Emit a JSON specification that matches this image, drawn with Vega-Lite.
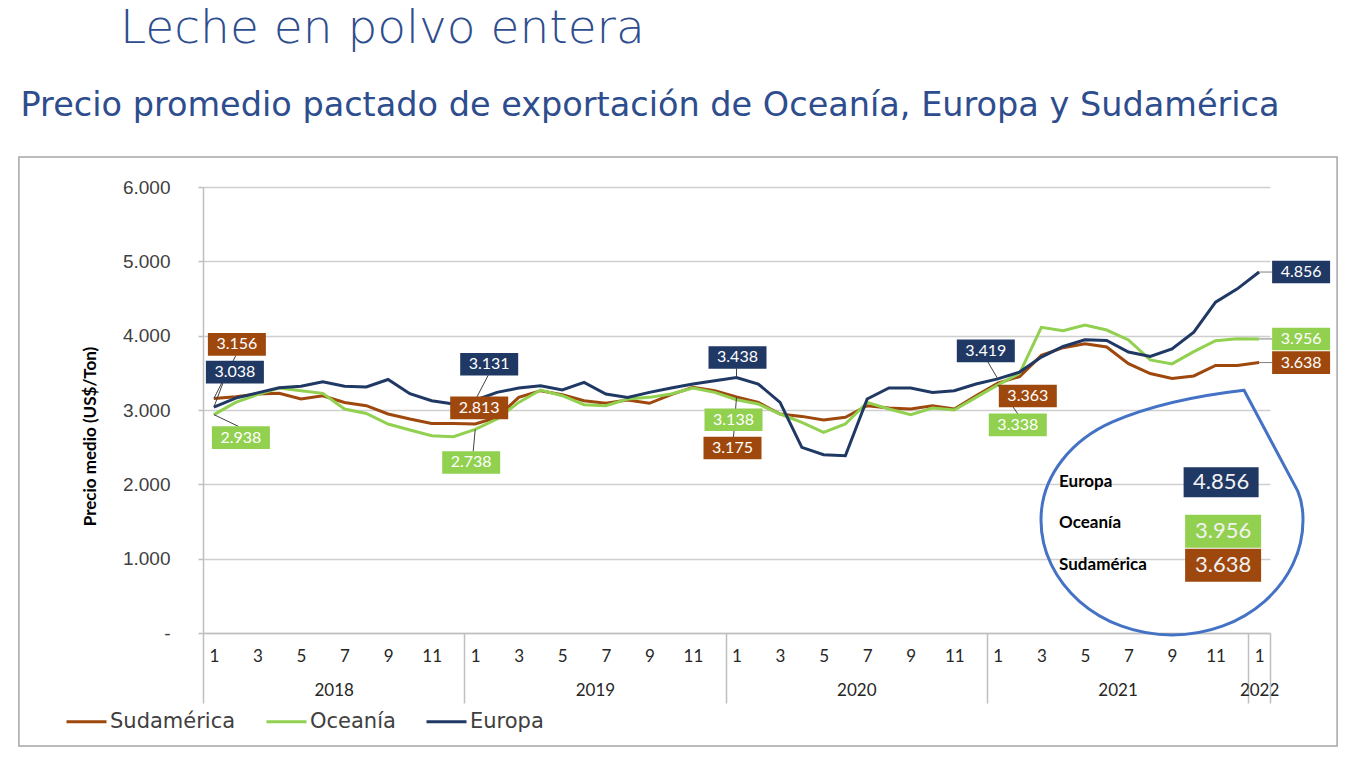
{
  "$schema": "https://vega.github.io/schema/vega-lite/v6.json",
  "width": 1067,
  "height": 446,
  "autosize": "none",
  "padding": {"left": 203, "top": 187, "right": 92, "bottom": 133},
  "background": "#FFFFFF",
  "config": {
    "font": "Lato",
    "view": {"stroke": null},
    "locale": {"number": {"decimal": ",", "thousands": ".", "grouping": [3], "currency": ["$", ""]}},
    "axis": {"labelOverlap": false}
  },
  "title": {
    "text": "Leche en polvo entera",
    "anchor": "start",
    "frame": "group",
    "dx": -83,
    "offset": -2,
    "baseline": "alphabetic",
    "font": "DejaVu Sans",
    "fontSize": 47,
    "fontWeight": 300,
    "color": "#2E4D8E"
  },
  "datasets": {
    "precios": [
      {"t": "2018-01", "Sudamérica": 3156, "Oceanía": 2938, "Europa": 3038},
      {"t": "2018-02", "Sudamérica": 3178, "Oceanía": 3102, "Europa": 3160},
      {"t": "2018-03", "Sudamérica": 3215, "Oceanía": 3206, "Europa": 3230},
      {"t": "2018-04", "Sudamérica": 3224, "Oceanía": 3296, "Europa": 3300},
      {"t": "2018-05", "Sudamérica": 3148, "Oceanía": 3260, "Europa": 3320},
      {"t": "2018-06", "Sudamérica": 3192, "Oceanía": 3224, "Europa": 3380},
      {"t": "2018-07", "Sudamérica": 3102, "Oceanía": 3013, "Europa": 3320},
      {"t": "2018-08", "Sudamérica": 3058, "Oceanía": 2954, "Europa": 3310},
      {"t": "2018-09", "Sudamérica": 2946, "Oceanía": 2812, "Europa": 3410},
      {"t": "2018-10", "Sudamérica": 2879, "Oceanía": 2731, "Europa": 3220},
      {"t": "2018-11", "Sudamérica": 2820, "Oceanía": 2654, "Europa": 3125},
      {"t": "2018-12", "Sudamérica": 2820, "Oceanía": 2640, "Europa": 3080},
      {"t": "2019-01", "Sudamérica": 2813, "Oceanía": 2738, "Europa": 3131},
      {"t": "2019-02", "Sudamérica": 2900, "Oceanía": 2879, "Europa": 3237},
      {"t": "2019-03", "Sudamérica": 3170, "Oceanía": 3102, "Europa": 3296},
      {"t": "2019-04", "Sudamérica": 3260, "Oceanía": 3269, "Europa": 3327},
      {"t": "2019-05", "Sudamérica": 3206, "Oceanía": 3192, "Europa": 3269},
      {"t": "2019-06", "Sudamérica": 3125, "Oceanía": 3071, "Europa": 3371},
      {"t": "2019-07", "Sudamérica": 3090, "Oceanía": 3058, "Europa": 3215},
      {"t": "2019-08", "Sudamérica": 3134, "Oceanía": 3148, "Europa": 3170},
      {"t": "2019-09", "Sudamérica": 3090, "Oceanía": 3170, "Europa": 3237},
      {"t": "2019-10", "Sudamérica": 3206, "Oceanía": 3215, "Europa": 3296},
      {"t": "2019-11", "Sudamérica": 3305, "Oceanía": 3296, "Europa": 3350},
      {"t": "2019-12", "Sudamérica": 3260, "Oceanía": 3237, "Europa": 3394},
      {"t": "2020-01", "Sudamérica": 3175, "Oceanía": 3138, "Europa": 3438},
      {"t": "2020-02", "Sudamérica": 3102, "Oceanía": 3080, "Europa": 3350},
      {"t": "2020-03", "Sudamérica": 2946, "Oceanía": 2946, "Europa": 3102},
      {"t": "2020-04", "Sudamérica": 2914, "Oceanía": 2833, "Europa": 2497},
      {"t": "2020-05", "Sudamérica": 2866, "Oceanía": 2699, "Europa": 2398},
      {"t": "2020-06", "Sudamérica": 2902, "Oceanía": 2812, "Europa": 2385},
      {"t": "2020-07", "Sudamérica": 3058, "Oceanía": 3102, "Europa": 3148},
      {"t": "2020-08", "Sudamérica": 3026, "Oceanía": 3013, "Europa": 3296},
      {"t": "2020-09", "Sudamérica": 3013, "Oceanía": 2937, "Europa": 3296},
      {"t": "2020-10", "Sudamérica": 3058, "Oceanía": 3026, "Europa": 3237},
      {"t": "2020-11", "Sudamérica": 3013, "Oceanía": 3000, "Europa": 3260},
      {"t": "2020-12", "Sudamérica": 3192, "Oceanía": 3170, "Europa": 3350},
      {"t": "2021-01", "Sudamérica": 3363, "Oceanía": 3338, "Europa": 3419},
      {"t": "2021-02", "Sudamérica": 3450, "Oceanía": 3493, "Europa": 3510},
      {"t": "2021-03", "Sudamérica": 3735, "Oceanía": 4112, "Europa": 3712},
      {"t": "2021-04", "Sudamérica": 3838, "Oceanía": 4067, "Europa": 3855},
      {"t": "2021-05", "Sudamérica": 3892, "Oceanía": 4143, "Europa": 3944},
      {"t": "2021-06", "Sudamérica": 3848, "Oceanía": 4076, "Europa": 3935},
      {"t": "2021-07", "Sudamérica": 3624, "Oceanía": 3942, "Europa": 3780},
      {"t": "2021-08", "Sudamérica": 3490, "Oceanía": 3673, "Europa": 3720},
      {"t": "2021-09", "Sudamérica": 3423, "Oceanía": 3620, "Europa": 3823},
      {"t": "2021-10", "Sudamérica": 3458, "Oceanía": 3785, "Europa": 4047},
      {"t": "2021-11", "Sudamérica": 3600, "Oceanía": 3932, "Europa": 4450},
      {"t": "2021-12", "Sudamérica": 3600, "Oceanía": 3960, "Europa": 4630},
      {"t": "2022-01", "Sudamérica": 3638, "Oceanía": 3956, "Europa": 4856}
    ]
  },
  "data": {"name": "precios"},
  "transform": [{"fold": ["Sudamérica", "Oceanía", "Europa"], "as": ["serie", "valor"]}],
  "resolve": {"axis": {"x": "independent", "y": "independent"}},
  "layer": [
    {
      "transform": [{"filter": "datum.t == '2022-01' && datum.serie == 'Europa'"}],
      "mark": {"type": "rect", "filled": false, "color": "#A6A6A6", "strokeWidth": 1.5, "xOffset": -195, "x2Offset": 78, "yOffset": -30, "y2Offset": 113},
      "encoding": {
        "x": {"datum": "2018-01", "type": "ordinal", "axis": null},
        "x2": {"datum": "2022-01"},
        "y": {"datum": 6000, "type": "quantitative", "axis": null},
        "y2": {"datum": 0}
      }
    },
    {
      "mark": {"type": "line", "strokeWidth": 3},
      "encoding": {
        "x": {
          "field": "t", "type": "ordinal",
          "scale": {"type": "point", "padding": 0.5},
          "axis": {
            "orient": "bottom", "title": null, "labelAngle": 0, "ticks": false, "grid": false,
            "domain": true, "domainColor": "#BFBFBF", "domainWidth": 1.5,
            "labelExpr": "toNumber(slice(datum.value,5)) % 2 == 1 ? '' + toNumber(slice(datum.value,5)) : ''",
            "labelPadding": 15, "labelFont": "Lato", "labelFontSize": 17, "labelColor": "#262626"
          }
        },
        "y": {
          "field": "valor", "type": "quantitative",
          "scale": {"domain": [0, 6000], "nice": false},
          "axis": {
            "values": [0, 1000, 2000, 3000, 4000, 5000, 6000],
            "format": ",d",
            "labelExpr": "datum.value == 0 ? '-' : datum.label",
            "labelFont": "Liberation Sans", "labelFontSize": 19, "labelColor": "#404040", "labelPadding": 28,
            "ticks": true, "tickSize": 5, "tickColor": "#BFBFBF", "tickWidth": 1.5,
            "domain": true, "domainColor": "#BFBFBF", "domainWidth": 1.5,
            "grid": true, "gridColor": "#CFCFCF", "gridWidth": 1.5,
            "title": "Precio medio (US$/Ton)", "titleFont": "Lato", "titleFontSize": 17, "titleFontWeight": "bold", "titleColor": "#000000",
            "titleX": -113, "titleY": 249, "titleAngle": 270, "titleAlign": "center", "titleBaseline": "middle"
          }
        },
        "color": {
          "field": "serie", "type": "nominal",
          "scale": {"domain": ["Sudamérica", "Oceanía", "Europa"], "range": ["#9E480E", "#92D050", "#1F3864"]},
          "legend": {
            "orient": "none", "legendX": -138, "legendY": 513, "direction": "horizontal", "title": null,
            "symbolType": "stroke", "symbolSize": 1600, "symbolStrokeWidth": 3,
            "labelFont": "DejaVu Sans", "labelFontSize": 21, "labelColor": "#404040", "labelOffset": 2,
            "columnPadding": 24, "padding": 0
          }
        }
      }
    },
    {
      "transform": [{"filter": "datum.t == '2022-01' && datum.serie == 'Europa'"}],
      "mark": {"type": "point", "shape": "M0.55,-0.99L0.96,-0.22C0.99,-0.15,1,-0.08,1,0C1,0.485,0.552,0.878,0,0.878C-0.552,0.878,-1,0.485,-1,0C-1,-0.35,-0.75,-0.62,-0.45,-0.75C-0.15,-0.88,0.2,-0.95,0.55,-0.99Z", "size": 68644, "filled": false, "color": "#4472C4", "strokeWidth": 3, "opacity": 1},
      "encoding": {
        "x": {"datum": "2021-09", "type": "ordinal", "axis": null},
        "y": {"datum": 1521, "type": "quantitative", "axis": null}
      }
    },
    {
      "transform": [{"filter": "datum.t == '2018-01' && datum.serie == 'Sudamérica'"}],
      "encoding": {
        "x": {"field": "t", "type": "ordinal", "axis": {
          "orient": "bottom", "values": ["2018-07", "2019-07", "2020-07", "2021-07"], "labelExpr": "slice(datum.value,0,4)",
          "labelOffset": -10.888, "ticks": false, "domain": false, "grid": false, "labelPadding": 49, "labelAngle": 0,
          "labelFont": "Lato", "labelFontSize": 17, "labelColor": "#262626", "title": null}},
        "y": {"field": "valor", "type": "quantitative", "axis": null}
      },
      "layer": [
        {"mark": {"type": "rule", "color": "#404040", "strokeWidth": 1, "x2Offset": 22, "y2Offset": -43}, "encoding": {"x2": {"field": "t"}, "y2": {"field": "valor"}}},
        {"mark": {"type": "point", "shape": "M-1,-0.39H1V0.39H-1Z", "size": 3364, "filled": true, "opacity": 1, "strokeWidth": 0, "xOffset": 23, "yOffset": -54}, "encoding": {"color": {"field": "serie", "type": "nominal", "legend": null}}},
        {"mark": {"type": "text", "color": "#FFFFFF", "font": "Lato", "fontSize": 16, "dx": 23, "dy": -54}, "encoding": {"text": {"field": "valor", "type": "quantitative", "format": ",d"}}}
      ]
    },
    {
      "transform": [{"filter": "datum.t == '2018-01' && datum.serie == 'Europa'"}],
      "encoding": {
        "x": {"field": "t", "type": "ordinal", "axis": {
          "orient": "bottom", "values": ["2018-01", "2019-01", "2020-01", "2021-01", "2022-01"], "tickOffset": -10.888,
          "ticks": true, "tickSize": 70, "tickColor": "#BFBFBF", "tickWidth": 1.5,
          "labelExpr": "datum.value == '2022-01' ? '2022' : ''", "labelOffset": 10.888, "labelPadding": -21, "labelAngle": 0,
          "labelFont": "Lato", "labelFontSize": 17, "labelColor": "#262626", "domain": false, "grid": false, "title": null}},
        "y": {"field": "valor", "type": "quantitative", "axis": null}
      },
      "layer": [
        {"mark": {"type": "rule", "color": "#404040", "strokeWidth": 1, "x2Offset": 9, "y2Offset": -24}, "encoding": {"x2": {"field": "t"}, "y2": {"field": "valor"}}},
        {"mark": {"type": "point", "shape": "M-1,-0.39H1V0.39H-1Z", "size": 3364, "filled": true, "opacity": 1, "strokeWidth": 0, "xOffset": 21, "yOffset": -35}, "encoding": {"color": {"field": "serie", "type": "nominal", "legend": null}}},
        {"mark": {"type": "text", "color": "#FFFFFF", "font": "Lato", "fontSize": 16, "dx": 21, "dy": -35}, "encoding": {"text": {"field": "valor", "type": "quantitative", "format": ",d"}}}
      ]
    },
    {
      "transform": [{"filter": "datum.t == '2018-01' && datum.serie == 'Oceanía'"}],
      "encoding": {
        "x": {"field": "t", "type": "ordinal", "axis": {
          "orient": "bottom", "values": ["2022-01"], "tickOffset": 10.888, "ticks": true, "tickSize": 70, "tickColor": "#BFBFBF", "tickWidth": 1.5,
          "labels": false, "domain": false, "grid": false, "title": null}},
        "y": {"field": "valor", "type": "quantitative", "axis": null}
      },
      "layer": [
        {"mark": {"type": "rule", "color": "#404040", "strokeWidth": 1, "x2Offset": 25, "y2Offset": 12}, "encoding": {"x2": {"field": "t"}, "y2": {"field": "valor"}}},
        {"mark": {"type": "point", "shape": "M-1,-0.39H1V0.39H-1Z", "size": 3364, "filled": true, "opacity": 1, "strokeWidth": 0, "xOffset": 27, "yOffset": 23}, "encoding": {"color": {"field": "serie", "type": "nominal", "legend": null}}},
        {"mark": {"type": "text", "color": "#FFFFFF", "font": "Lato", "fontSize": 16, "dx": 27, "dy": 23}, "encoding": {"text": {"field": "valor", "type": "quantitative", "format": ",d"}}}
      ]
    },
    {
      "transform": [{"filter": "datum.t == '2019-01' && datum.serie == 'Europa'"}],
      "encoding": {
        "x": {"field": "t", "type": "ordinal", "axis": {
          "orient": "top", "labels": false, "ticks": false, "domain": false, "grid": false,
          "title": "Precio promedio pactado de exportación de Oceanía, Europa y Sudamérica",
          "titleX": -183, "titleY": -72, "titleAlign": "left", "titleAnchor": "start", "titleBaseline": "alphabetic",
          "titleFont": "DejaVu Sans", "titleFontSize": 33.5, "titleFontWeight": "normal", "titleColor": "#2E4D8E"}},
        "y": {"field": "valor", "type": "quantitative", "axis": null}
      },
      "layer": [
        {"mark": {"type": "rule", "color": "#404040", "strokeWidth": 1, "x2Offset": 13, "y2Offset": -25}, "encoding": {"x2": {"field": "t"}, "y2": {"field": "valor"}}},
        {"mark": {"type": "point", "shape": "M-1,-0.39H1V0.39H-1Z", "size": 3364, "filled": true, "opacity": 1, "strokeWidth": 0, "xOffset": 14, "yOffset": -36}, "encoding": {"color": {"field": "serie", "type": "nominal", "legend": null}}},
        {"mark": {"type": "text", "color": "#FFFFFF", "font": "Lato", "fontSize": 16, "dx": 14, "dy": -36}, "encoding": {"text": {"field": "valor", "type": "quantitative", "format": ",d"}}}
      ]
    },
    {
      "transform": [{"filter": "datum.t == '2019-01' && datum.serie == 'Sudamérica'"}],
      "encoding": {
        "x": {"field": "t", "type": "ordinal", "axis": null},
        "y": {"field": "valor", "type": "quantitative", "axis": null}
      },
      "layer": [
        {"mark": {"type": "point", "shape": "M-1,-0.39H1V0.39H-1Z", "size": 3364, "filled": true, "opacity": 1, "strokeWidth": 0, "xOffset": 4, "yOffset": -16}, "encoding": {"color": {"field": "serie", "type": "nominal", "legend": null}}},
        {"mark": {"type": "text", "color": "#FFFFFF", "font": "Lato", "fontSize": 16, "dx": 4, "dy": -16}, "encoding": {"text": {"field": "valor", "type": "quantitative", "format": ",d"}}}
      ]
    },
    {
      "transform": [{"filter": "datum.t == '2019-01' && datum.serie == 'Oceanía'"}],
      "encoding": {
        "x": {"field": "t", "type": "ordinal", "axis": null},
        "y": {"field": "valor", "type": "quantitative", "axis": null}
      },
      "layer": [
        {"mark": {"type": "rule", "color": "#404040", "strokeWidth": 1, "x2Offset": -2, "y2Offset": 22}, "encoding": {"x2": {"field": "t"}, "y2": {"field": "valor"}}},
        {"mark": {"type": "point", "shape": "M-1,-0.39H1V0.39H-1Z", "size": 3364, "filled": true, "opacity": 1, "strokeWidth": 0, "xOffset": -4, "yOffset": 33}, "encoding": {"color": {"field": "serie", "type": "nominal", "legend": null}}},
        {"mark": {"type": "text", "color": "#FFFFFF", "font": "Lato", "fontSize": 16, "dx": -4, "dy": 33}, "encoding": {"text": {"field": "valor", "type": "quantitative", "format": ",d"}}}
      ]
    },
    {
      "transform": [{"filter": "datum.t == '2020-01' && datum.serie == 'Europa'"}],
      "encoding": {
        "x": {"field": "t", "type": "ordinal", "axis": null},
        "y": {"field": "valor", "type": "quantitative", "axis": null}
      },
      "layer": [
        {"mark": {"type": "rule", "color": "#404040", "strokeWidth": 1, "x2Offset": 0, "y2Offset": -9}, "encoding": {"x2": {"field": "t"}, "y2": {"field": "valor"}}},
        {"mark": {"type": "point", "shape": "M-1,-0.39H1V0.39H-1Z", "size": 3364, "filled": true, "opacity": 1, "strokeWidth": 0, "xOffset": 1, "yOffset": -20}, "encoding": {"color": {"field": "serie", "type": "nominal", "legend": null}}},
        {"mark": {"type": "text", "color": "#FFFFFF", "font": "Lato", "fontSize": 16, "dx": 1, "dy": -20}, "encoding": {"text": {"field": "valor", "type": "quantitative", "format": ",d"}}}
      ]
    },
    {
      "transform": [{"filter": "datum.t == '2020-01' && datum.serie == 'Sudamérica'"}],
      "encoding": {
        "x": {"field": "t", "type": "ordinal", "axis": null},
        "y": {"field": "valor", "type": "quantitative", "axis": null}
      },
      "layer": [
        {"mark": {"type": "rule", "color": "#404040", "strokeWidth": 1, "x2Offset": -3, "y2Offset": 40}, "encoding": {"x2": {"field": "t"}, "y2": {"field": "valor"}}},
        {"mark": {"type": "point", "shape": "M-1,-0.39H1V0.39H-1Z", "size": 3364, "filled": true, "opacity": 1, "strokeWidth": 0, "xOffset": -4, "yOffset": 51}, "encoding": {"color": {"field": "serie", "type": "nominal", "legend": null}}},
        {"mark": {"type": "text", "color": "#FFFFFF", "font": "Lato", "fontSize": 16, "dx": -4, "dy": 51}, "encoding": {"text": {"field": "valor", "type": "quantitative", "format": ",d"}}}
      ]
    },
    {
      "transform": [{"filter": "datum.t == '2020-01' && datum.serie == 'Oceanía'"}],
      "encoding": {
        "x": {"field": "t", "type": "ordinal", "axis": null},
        "y": {"field": "valor", "type": "quantitative", "axis": null}
      },
      "layer": [
        {"mark": {"type": "point", "shape": "M-1,-0.39H1V0.39H-1Z", "size": 3364, "filled": true, "opacity": 1, "strokeWidth": 0, "xOffset": -3, "yOffset": 20}, "encoding": {"color": {"field": "serie", "type": "nominal", "legend": null}}},
        {"mark": {"type": "text", "color": "#FFFFFF", "font": "Lato", "fontSize": 16, "dx": -3, "dy": 20}, "encoding": {"text": {"field": "valor", "type": "quantitative", "format": ",d"}}}
      ]
    },
    {
      "transform": [{"filter": "datum.t == '2021-01' && datum.serie == 'Europa'"}],
      "encoding": {
        "x": {"field": "t", "type": "ordinal", "axis": null},
        "y": {"field": "valor", "type": "quantitative", "axis": null}
      },
      "layer": [
        {"mark": {"type": "rule", "color": "#404040", "strokeWidth": 1, "x2Offset": -10, "y2Offset": -17}, "encoding": {"x2": {"field": "t"}, "y2": {"field": "valor"}}},
        {"mark": {"type": "point", "shape": "M-1,-0.39H1V0.39H-1Z", "size": 3364, "filled": true, "opacity": 1, "strokeWidth": 0, "xOffset": -12, "yOffset": -28}, "encoding": {"color": {"field": "serie", "type": "nominal", "legend": null}}},
        {"mark": {"type": "text", "color": "#FFFFFF", "font": "Lato", "fontSize": 16, "dx": -12, "dy": -28}, "encoding": {"text": {"field": "valor", "type": "quantitative", "format": ",d"}}}
      ]
    },
    {
      "transform": [{"filter": "datum.t == '2021-01' && datum.serie == 'Oceanía'"}],
      "encoding": {
        "x": {"field": "t", "type": "ordinal", "axis": null},
        "y": {"field": "valor", "type": "quantitative", "axis": null}
      },
      "layer": [
        {"mark": {"type": "rule", "color": "#404040", "strokeWidth": 1, "x2Offset": 20, "y2Offset": 29}, "encoding": {"x2": {"field": "t"}, "y2": {"field": "valor"}}},
        {"mark": {"type": "point", "shape": "M-1,-0.39H1V0.39H-1Z", "size": 3364, "filled": true, "opacity": 1, "strokeWidth": 0, "xOffset": 20, "yOffset": 40}, "encoding": {"color": {"field": "serie", "type": "nominal", "legend": null}}},
        {"mark": {"type": "text", "color": "#FFFFFF", "font": "Lato", "fontSize": 16, "dx": 20, "dy": 40}, "encoding": {"text": {"field": "valor", "type": "quantitative", "format": ",d"}}}
      ]
    },
    {
      "transform": [{"filter": "datum.t == '2021-01' && datum.serie == 'Sudamérica'"}],
      "encoding": {
        "x": {"field": "t", "type": "ordinal", "axis": null},
        "y": {"field": "valor", "type": "quantitative", "axis": null}
      },
      "layer": [
        {"mark": {"type": "point", "shape": "M-1,-0.39H1V0.39H-1Z", "size": 3364, "filled": true, "opacity": 1, "strokeWidth": 0, "xOffset": 30, "yOffset": 13}, "encoding": {"color": {"field": "serie", "type": "nominal", "legend": null}}},
        {"mark": {"type": "text", "color": "#FFFFFF", "font": "Lato", "fontSize": 16, "dx": 30, "dy": 13}, "encoding": {"text": {"field": "valor", "type": "quantitative", "format": ",d"}}}
      ]
    },
    {
      "transform": [{"filter": "datum.t == '2022-01'"}],
      "encoding": {
        "x": {"field": "t", "type": "ordinal", "axis": null},
        "y": {"field": "valor", "type": "quantitative", "axis": null}
      },
      "layer": [
        {"mark": {"type": "rule", "color": "#808080", "strokeWidth": 1, "x2Offset": 13, "y2Offset": 0}, "encoding": {"x2": {"field": "t"}, "y2": {"field": "valor"}}},
        {"mark": {"type": "point", "shape": "M-1,-0.39H1V0.39H-1Z", "size": 3364, "filled": true, "opacity": 1, "strokeWidth": 0, "xOffset": 42, "yOffset": 0}, "encoding": {"color": {"field": "serie", "type": "nominal", "legend": null}}},
        {"mark": {"type": "text", "color": "#FFFFFF", "font": "Lato", "fontSize": 16, "dx": 42, "dy": 0}, "encoding": {"text": {"field": "valor", "type": "quantitative", "format": ",d"}}}
      ]
    },
    {
      "transform": [{"filter": "datum.t == '2022-01' && datum.serie == 'Europa'"}],
      "encoding": {
        "x": {"field": "t", "type": "ordinal", "axis": null},
        "y": {"datum": 2000, "type": "quantitative", "axis": null}
      },
      "layer": [
        {"mark": {"type": "text", "align": "left", "color": "#000000", "font": "Lato", "fontSize": 17, "fontWeight": "bold", "dx": -200, "dy": -2}, "encoding": {"text": {"field": "serie"}}},
        {"mark": {"type": "point", "shape": "M-1,-0.4H1V0.4H-1Z", "size": 5625, "filled": true, "opacity": 1, "strokeWidth": 0, "xOffset": -38, "yOffset": -2}, "encoding": {"color": {"field": "serie", "type": "nominal", "legend": null}}},
        {"mark": {"type": "text", "color": "#F2F2F2", "font": "Lato", "fontSize": 22, "dx": -38, "dy": -2}, "encoding": {"text": {"field": "valor", "type": "quantitative", "format": ",d"}}}
      ]
    },
    {
      "transform": [{"filter": "datum.t == '2022-01' && datum.serie == 'Oceanía'"}],
      "encoding": {
        "x": {"field": "t", "type": "ordinal", "axis": null},
        "y": {"datum": 2000, "type": "quantitative", "axis": null}
      },
      "layer": [
        {"mark": {"type": "text", "align": "left", "color": "#000000", "font": "Lato", "fontSize": 17, "fontWeight": "bold", "dx": -200, "dy": 39}, "encoding": {"text": {"field": "serie"}}},
        {"mark": {"type": "point", "shape": "M-1,-0.434H1V0.434H-1Z", "size": 5776, "filled": true, "opacity": 1, "strokeWidth": 0, "xOffset": -36, "yOffset": 47}, "encoding": {"color": {"field": "serie", "type": "nominal", "legend": null}}},
        {"mark": {"type": "text", "color": "#F2F2F2", "font": "Lato", "fontSize": 22, "dx": -36, "dy": 47}, "encoding": {"text": {"field": "valor", "type": "quantitative", "format": ",d"}}}
      ]
    },
    {
      "transform": [{"filter": "datum.t == '2022-01' && datum.serie == 'Sudamérica'"}],
      "encoding": {
        "x": {"field": "t", "type": "ordinal", "axis": null},
        "y": {"datum": 2000, "type": "quantitative", "axis": null}
      },
      "layer": [
        {"mark": {"type": "text", "align": "left", "color": "#000000", "font": "Lato", "fontSize": 17, "fontWeight": "bold", "dx": -200, "dy": 81}, "encoding": {"text": {"field": "serie"}}},
        {"mark": {"type": "point", "shape": "M-1,-0.434H1V0.434H-1Z", "size": 5776, "filled": true, "opacity": 1, "strokeWidth": 0, "xOffset": -36, "yOffset": 81}, "encoding": {"color": {"field": "serie", "type": "nominal", "legend": null}}},
        {"mark": {"type": "text", "color": "#F2F2F2", "font": "Lato", "fontSize": 22, "dx": -36, "dy": 81}, "encoding": {"text": {"field": "valor", "type": "quantitative", "format": ",d"}}}
      ]
    }
  ]
}
